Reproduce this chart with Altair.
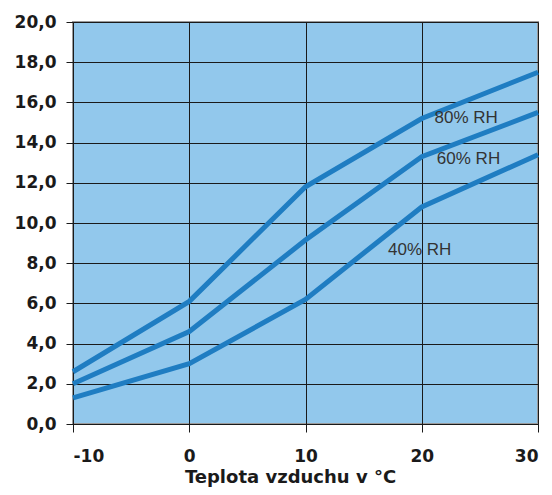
import altair as alt
import pandas as pd

temps = [-10, 0, 10, 20, 30]
rh80 = [2.6, 6.1, 11.8, 15.2, 17.5]
rh60 = [2.0, 4.6, 9.15, 13.3, 15.5]
rh40 = [1.3, 3.0, 6.2, 10.8, 13.4]
series_names = ["80% RH", "60% RH", "40% RH"]

label_x = [21.1, 21.3, 17.1]
label_y = [15.2, 13.2, 8.65]

rows = []
for name, vals in zip(series_names, [rh80, rh60, rh40]):
    for t, v in zip(temps, vals):
        rows.append({"t": t, "v": v, "s": name})
df = pd.DataFrame(rows)
labels = pd.DataFrame({"t": label_x, "v": label_y, "s": series_names})

xscale = alt.Scale(domain=[-10, 30], nice=False, zero=False)
yscale = alt.Scale(domain=[0, 20], nice=False)

FONT = "DejaVu Sans"

lines = alt.Chart(df).mark_line(color="#1f7dc2", strokeWidth=5, strokeCap="butt").encode(
    x=alt.X("t:Q", scale=xscale,
            axis=alt.Axis(title="Teplota vzduchu v °C", values=[-10, 0, 10, 20, 30],
                          format="d", grid=True, gridColor="#1a1a1a", gridWidth=1,
                          domainColor="#1a1a1a", tickColor="#1a1a1a", tickSize=8,
                          labelFont=FONT, labelFontSize=17, labelFontWeight="bold",
                          labelColor="#1a1a1a", labelPadding=16,
                          labelExpr="replace(datum.label, '\u2212', '-')",
                          titleFont=FONT, titleFontSize=18, titleFontWeight="bold",
                          titleColor="#1a1a1a", titleX=217, titleY=58,
                          titleAlign="center", titleBaseline="alphabetic")),
    y=alt.Y("v:Q", scale=yscale,
            axis=alt.Axis(title=None, values=list(range(0, 21, 2)), format=".1f",
                          grid=True, gridColor="#1a1a1a", gridWidth=1,
                          domainColor="#1a1a1a", tickColor="#1a1a1a", tickSize=7,
                          labelFont=FONT, labelFontSize=17, labelFontWeight="bold",
                          labelColor="#1a1a1a", labelPadding=10,
                          labelExpr="replace(datum.label, '.', ',')")),
    detail="s:N",
)

text = alt.Chart(labels).mark_text(align="left", baseline="middle", font="Liberation Sans",
                                   fontSize=17, color="#333333").encode(
    x=alt.X("t:Q", scale=xscale), y=alt.Y("v:Q", scale=yscale), text="s:N")

chart = (lines + text).properties(
    width=465, height=402,
    autosize=alt.AutoSizeParams(type="none"),
    padding={"left": 65, "top": 14, "right": 6, "bottom": 63},
).configure_view(fill="#92c8ec", stroke="#9a9a9a", strokeWidth=2)

chart.save("out.html", embed_options={"renderer": "svg", "actions": False})
